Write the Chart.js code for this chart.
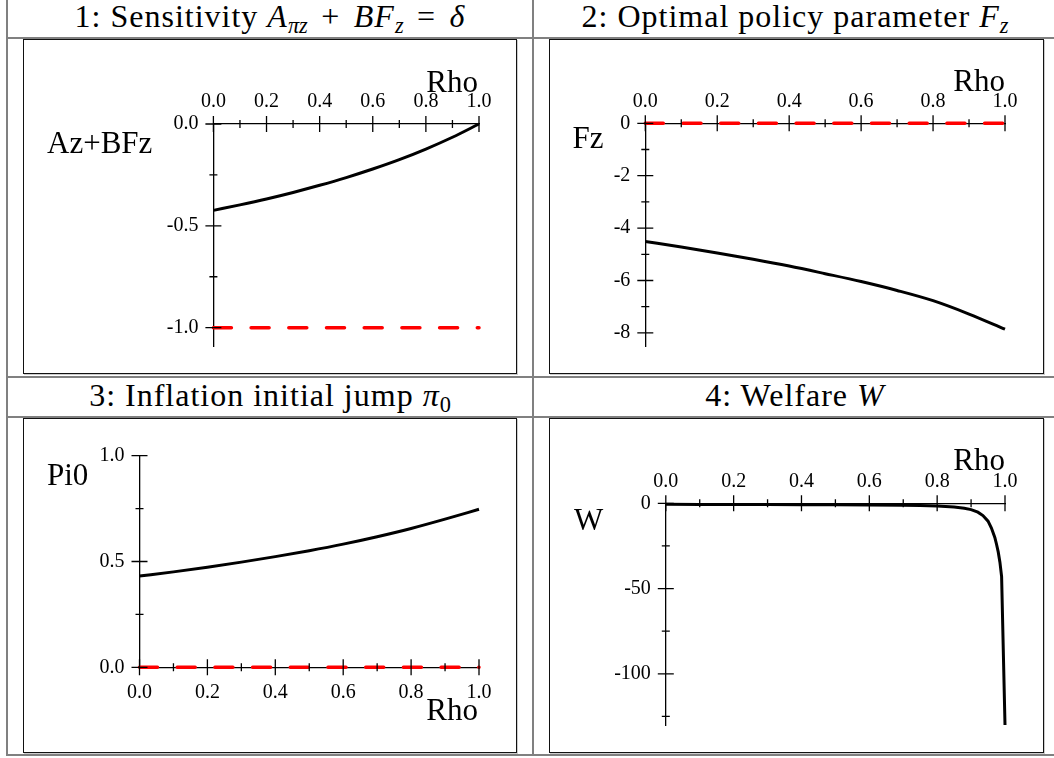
<!DOCTYPE html>
<html>
<head>
<meta charset="utf-8">
<script src="https://cdn.jsdelivr.net/npm/chart.js@4.4.1/dist/chart.umd.min.js"></script>
<style>
  body { margin: 0; background: #fff; }
  #page { position: relative; width: 1054px; height: 758px; overflow: hidden; font-family: "Liberation Serif", "Times New Roman", serif; color: #000; }
  .rule { position: absolute; background: #808080; }
  .head { position: absolute; height: 37px; line-height: 37px; text-align: center; font-family: "Liberation Serif", serif; font-size: 32px; letter-spacing: 1px; white-space: nowrap; }
  .head sub { font-size: 70%; vertical-align: -0.25em; line-height: 0; letter-spacing: 0; }
  .head .op { margin: 0 0.14em; }
  .box { position: absolute; border: 1px solid #111; box-shadow: 1px 1px 0 #ccc; }
  .box canvas { position: absolute; left: 0; top: 0; }
</style>
</head>
<body>
<div id="page">
  <!-- table rules -->
  <div class="rule" style="left:6px;top:0;width:2px;height:756px"></div>
  <div class="rule" style="left:532px;top:0;width:2px;height:756px"></div>
  <div class="rule" style="left:6px;top:37px;width:1048px;height:2px"></div>
  <div class="rule" style="left:6px;top:376px;width:1048px;height:2px"></div>
  <div class="rule" style="left:6px;top:416px;width:1048px;height:2px"></div>
  <div class="rule" style="left:6px;top:754px;width:1048px;height:2px"></div>

  <!-- cell headings -->
  <div class="head" style="left:8px;top:-2px;width:524px">1: Sensitivity <i>A</i><sub><i>πz</i></sub> <span class="op">+</span> <i>BF</i><sub><i>z</i></sub> <span class="op">=</span> <i>δ</i></div>
  <div class="head" style="left:534px;top:-2px;width:522px">2: Optimal policy parameter <i>F</i><sub><i>z</i></sub></div>
  <div class="head" style="left:8px;top:377px;width:524px">3: Inflation initial jump <i>π</i><sub>0</sub></div>
  <div class="head" style="left:534px;top:377px;width:522px">4: Welfare <i>W</i></div>

  <!-- plot frames -->
  <div class="box" style="left:23px;top:39px;width:492px;height:333px"><canvas id="c1" width="492" height="333"></canvas></div>
  <div class="box" style="left:549px;top:39px;width:493px;height:333px"><canvas id="c2" width="493" height="333"></canvas></div>
  <div class="box" style="left:23px;top:418px;width:492px;height:333px"><canvas id="c3" width="492" height="333"></canvas></div>
  <div class="box" style="left:549px;top:418px;width:493px;height:333px"><canvas id="c4" width="493" height="333"></canvas></div>
</div>

<script>
// Rho grid used by panels 1-3
const rho = [0, 0.1, 0.2, 0.3, 0.4, 0.5, 0.6, 0.7, 0.8, 0.9, 1.0];

// Panel 1: Az+BFz (black) and the delta level (red dashed)
const azBfz = [-0.424, -0.397, -0.368, -0.336, -0.301, -0.263, -0.221, -0.175, -0.123, -0.065, 0];
const deltaLevel = [-1, -1];

// Panel 2: Fz (black) and zero level (red dashed)
const fz = [-4.51, -4.72, -4.95, -5.19, -5.45, -5.74, -6.04, -6.38, -6.77, -7.28, -7.86];
const fzZero = [0, 0];

// Panel 3: Pi0 (black) and zero level (red dashed)
const pi0 = [0.431, 0.451, 0.473, 0.497, 0.523, 0.551, 0.582, 0.617, 0.656, 0.700, 0.747];
const piZero = [0, 0];

// Panel 4: welfare W, denser near rho = 1
const rhoW = [0, 0.1, 0.2, 0.3, 0.4, 0.5, 0.6, 0.7, 0.75, 0.8, 0.85, 0.88, 0.9, 0.92, 0.935, 0.95, 0.96, 0.97, 0.975, 0.98, 0.985, 0.99, 1.0];
const welfare = [-0.6, -0.65, -0.7, -0.75, -0.8, -0.9, -1.0, -1.2, -1.35, -1.6, -2.2, -2.9, -3.7, -5.2, -7.2, -10.5, -14.5, -20, -24, -28.5, -34.5, -43, -130];

// ends of the dashed reference lines
const rhoEnds = [0, 1];

// tick values and labels
const rhoTicks = [0, 0.2, 0.4, 0.6, 0.8, 1.0];
const rhoLabels = ['0.0', '0.2', '0.4', '0.6', '0.8', '1.0'];
const rhoMinor = [0.1, 0.3, 0.5, 0.7, 0.9];
const azTicks = [0, -0.5, -1.0];
const azLabels = ['0.0', '-0.5', '-1.0'];
const azMinor = [-0.25, -0.75];
const fzTicks = [0, -2, -4, -6, -8];
const fzLabels = ['0', '-2', '-4', '-6', '-8'];
const fzMinor = [-1, -3, -5, -7];
const piTicks = [0, 0.5, 1.0];
const piLabels = ['0.0', '0.5', '1.0'];
const piMinor = [0.25, 0.75];
const wTicks = [0, -50, -100];
const wLabels = ['0', '-50', '-100'];
const wMinor = [-25, -75, -125];

const tickFont = { family: '"Liberation Serif"', size: 20 };

// pair two arrays into {x, y} points
function points(xs, ys) {
    return xs.map((x, i) => ({ x: x, y: ys[i] }));
}

// Draws the Maple style crossing tick marks and the axis names
const axisDecor = {
    id: 'axisDecor',
    afterDatasetsDraw(chart, args, opts) {
        const ctx = chart.ctx;
        const area = chart.chartArea;
        const xs = chart.scales.x, ys = chart.scales.y;
        const xAxisY = opts.xBottom ? area.bottom : area.top;
        const yAxisX = area.left;
        ctx.save();
        ctx.strokeStyle = '#000';
        ctx.lineWidth = 1.3;
        ctx.beginPath();
        opts.xMajor.forEach(v => { const p = xs.getPixelForValue(v); ctx.moveTo(p, xAxisY - 8); ctx.lineTo(p, xAxisY + 8); });
        opts.xMinor.forEach(v => { const p = xs.getPixelForValue(v); ctx.moveTo(p, xAxisY - 4); ctx.lineTo(p, xAxisY + 4); });
        opts.yMajor.forEach(v => { const p = ys.getPixelForValue(v); ctx.moveTo(yAxisX - 8, p); ctx.lineTo(yAxisX + 8, p); });
        opts.yMinor.forEach(v => { const p = ys.getPixelForValue(v); ctx.moveTo(yAxisX - 4, p); ctx.lineTo(yAxisX + 4, p); });
        ctx.stroke();

        ctx.fillStyle = '#000';
        ctx.font = '31px "Liberation Serif"';
        ctx.textBaseline = 'alphabetic';
        ctx.textAlign = 'right';
        ctx.fillText('Rho', opts.rhoAt[0], opts.rhoAt[1]);
        ctx.textAlign = 'left';
        ctx.fillText(opts.name, opts.nameAt[0], opts.nameAt[1]);
        ctx.restore();
    }
};

// Build one panel
function makePanel(id, cfg) {
    const ctx = document.getElementById(id).getContext('2d');
    return new Chart(ctx, {
        type: 'line',
        data: {
            datasets: [
                {
                    data: points(cfg.xs, cfg.ys),
                    borderColor: '#000',
                    borderWidth: 3,
                    pointRadius: 0,
                    cubicInterpolationMode: cfg.smooth ? 'monotone' : 'default',
                    tension: 0,
                    clip: false
                },
                {
                    data: points(rhoEnds, cfg.ref),
                    borderColor: '#ff0000',
                    borderWidth: 3.5,
                    borderDash: [18, 19.7],
                    borderCapStyle: 'round',
                    pointRadius: 0,
                    clip: false
                }
            ]
        },
        options: {
            responsive: false,
            animation: false,
            devicePixelRatio: 1,
            layout: { padding: cfg.pad },
            plugins: {
                legend: { display: false },
                tooltip: { enabled: false },
                axisDecor: cfg.decor
            },
            scales: {
                x: {
                    type: 'linear',
                    position: cfg.decor.xBottom ? 'bottom' : 'top',
                    min: 0,
                    max: 1,
                    grid: { display: false, drawTicks: false },
                    border: { display: true, color: '#000', width: 1.3 },
                    ticks: {
                        color: '#000', font: tickFont, padding: cfg.xPad, autoSkip: false, maxRotation: 0,
                        callback: (v, i) => rhoLabels[i]
                    },
                    afterBuildTicks: s => { s.ticks = rhoTicks.map(v => ({ value: v })); },
                    afterFit: s => { s.height = cfg.xHeight; }
                },
                y: {
                    type: 'linear',
                    min: cfg.yMin,
                    max: cfg.yMax,
                    grid: { display: false, drawTicks: false },
                    border: { display: true, color: '#000', width: 1.3 },
                    ticks: {
                        color: '#000', font: tickFont, padding: 15, autoSkip: false,
                        callback: (v, i) => cfg.yLabels[i]
                    },
                    afterBuildTicks: s => { s.ticks = cfg.yTicks.map(v => ({ value: v })); },
                    afterFit: s => { s.width = cfg.yWidth; }
                }
            }
        },
        plugins: [axisDecor]
    });
}

makePanel('c1', {
    xs: rho, ys: azBfz, ref: deltaLevel, smooth: true,
    yMin: -1.09, yMax: 0, yTicks: azTicks, yLabels: azLabels,
    yWidth: 189.4, xHeight: 84, xPad: 10,
    pad: { left: 0, top: 0, right: 37, bottom: 23 },
    decor: { xBottom: false, xMajor: rhoTicks, xMinor: rhoMinor, yMajor: azTicks, yMinor: azMinor,
             rhoAt: [454, 51.7], name: 'Az+BFz', nameAt: [23, 112.7] }
});

makePanel('c2', {
    xs: rho, ys: fz, ref: fzZero, smooth: true,
    yMin: -8.5, yMax: 0, yTicks: fzTicks, yLabels: fzLabels,
    yWidth: 95.3, xHeight: 83.3, xPad: 10,
    pad: { left: 0, top: 0, right: 38, bottom: 23.7 },
    decor: { xBottom: false, xMajor: rhoTicks, xMinor: rhoMinor, yMajor: fzTicks, yMinor: fzMinor,
             rhoAt: [455, 50.7], name: 'Fz', nameAt: [22.4, 108.3] }
});

makePanel('c3', {
    xs: rho, ys: pi0, ref: piZero, smooth: true,
    yMin: 0, yMax: 1, yTicks: piTicks, yLabels: piLabels,
    yWidth: 115.5, xHeight: 84.7, xPad: 13,
    pad: { left: 0, top: 36.7, right: 37, bottom: 0 },
    decor: { xBottom: true, xMajor: rhoTicks, xMinor: rhoMinor, yMajor: piTicks, yMinor: piMinor,
             rhoAt: [454, 301], name: 'Pi0', nameAt: [23, 66] }
});

makePanel('c4', {
    xs: rhoW, ys: welfare, ref: [null, null], smooth: false,
    yMin: -130, yMax: 0, yTicks: wTicks, yLabels: wLabels,
    yWidth: 115.8, xHeight: 84.3, xPad: 10,
    pad: { left: 0, top: 0, right: 38, bottom: 24.3 },
    decor: { xBottom: false, xMajor: rhoTicks, xMinor: rhoMinor, yMajor: wTicks, yMinor: wMinor,
             rhoAt: [455, 51], name: 'W', nameAt: [24, 111] }
});
</script>
</body>
</html>
